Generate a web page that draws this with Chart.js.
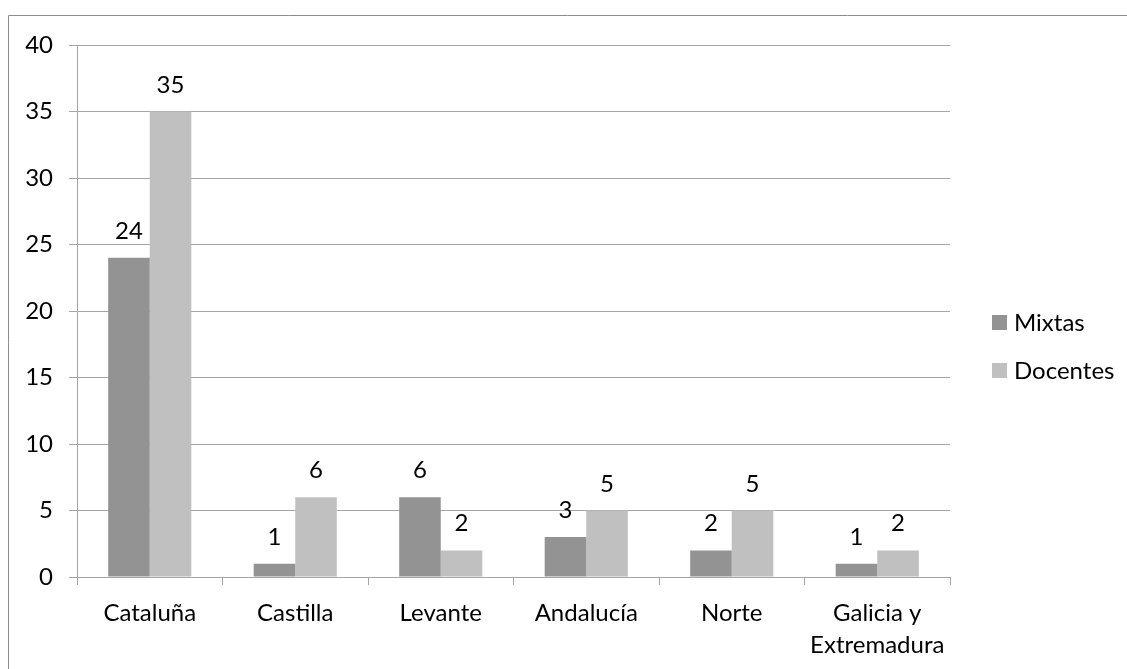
<!DOCTYPE html>
<html>
<head>
<meta charset="utf-8">
<script src="https://cdn.jsdelivr.net/npm/chart.js@4/dist/chart.umd.min.js"></script>
<style>
  html, body { margin: 0; padding: 0; background: #ffffff; }
  #wrap { position: relative; width: 1127px; height: 669px; }
</style>
</head>
<body>
<div id="wrap"><canvas id="chart" width="1127" height="669"></canvas></div>
<script>
// Regiones y número de escuelas por tipo
const regiones = ['Cataluña', 'Castilla', 'Levante', 'Andalucía', 'Norte', ['Galicia y', 'Extremadura']];
const mixtas = [24, 1, 6, 3, 2, 1];
const docentes = [35, 6, 2, 5, 5, 2];
const serieNombres = ['Mixtas', 'Docentes'];
const ejeY = { min: 0, max: 40, paso: 5 };

const FONT = 'Lato, "Open Sans", sans-serif';
const SIZE = 24;
const TEXT = '#000000';

// Marco exterior del gráfico (líneas superior e izquierda)
const marco = {
  id: 'marco',
  beforeDraw(chart) {
    const ctx = chart.ctx;
    ctx.save();
    ctx.strokeStyle = '#8c8c8c';
    ctx.lineWidth = 1;
    ctx.beginPath();
    ctx.moveTo(8.5, 669);
    ctx.lineTo(8.5, 15.5);
    ctx.lineTo(1127, 15.5);
    ctx.stroke();
    ctx.restore();
  }
};

// Valores encima de cada barra
const etiquetas = {
  id: 'etiquetas',
  afterDatasetsDraw(chart) {
    const ctx = chart.ctx;
    ctx.save();
    ctx.font = SIZE + 'px ' + FONT;
    ctx.fillStyle = TEXT;
    ctx.textAlign = 'center';
    ctx.textBaseline = 'alphabetic';
    chart.data.datasets.forEach((ds, i) => {
      const meta = chart.getDatasetMeta(i);
      meta.data.forEach((bar, j) => {
        ctx.fillText(String(ds.data[j]), bar.x, bar.y - 19);
      });
    });
    ctx.restore();
  }
};

// Leyenda a la derecha
const leyenda = {
  id: 'leyenda',
  afterDraw(chart) {
    const ctx = chart.ctx;
    ctx.save();
    ctx.font = SIZE + 'px ' + FONT;
    ctx.textBaseline = 'middle';
    ctx.textAlign = 'left';
    chart.data.datasets.forEach((ds, i) => {
      const cy = 322.5 + i * 48;
      ctx.fillStyle = ds.backgroundColor;
      ctx.fillRect(992, cy - 7.5, 15, 15);
      ctx.fillStyle = TEXT;
      ctx.fillText(ds.label, 1014, cy + 1);
    });
    ctx.restore();
  }
};

new Chart(document.getElementById('chart'), {
  type: 'bar',
  data: {
    labels: regiones,
    datasets: [
      { label: serieNombres[0], data: mixtas, backgroundColor: '#939393' },
      { label: serieNombres[1], data: docentes, backgroundColor: '#c0c0c0' }
    ]
  },
  options: {
    responsive: false,
    animation: false,
    devicePixelRatio: 1,
    layout: { padding: { top: 45, right: 177, bottom: 0, left: 0 } },
    datasets: { bar: { categoryPercentage: 2 / 3.5, barPercentage: 1.0 } },
    plugins: { legend: { display: false }, tooltip: { enabled: false } },
    scales: {
      x: {
        afterFit(scale) { scale.height = 92; },
        grid: { drawOnChartArea: false, drawTicks: true, tickLength: 8, color: '#a6a6a6', offset: true },
        border: { display: true, color: '#a6a6a6' },
        ticks: { color: TEXT, font: { family: FONT, size: SIZE, lineHeight: 1.33 }, padding: 12, maxRotation: 0, autoSkip: false }
      },
      y: {
        min: ejeY.min,
        max: ejeY.max,
        afterFit(scale) { scale.width = 77; },
        grid: { color: '#a6a6a6', tickLength: 8 },
        border: { display: true, color: '#a6a6a6' },
        ticks: { stepSize: ejeY.paso, color: TEXT, font: { family: FONT, size: SIZE }, padding: 16 }
      }
    }
  },
  plugins: [marco, etiquetas, leyenda]
});
</script>
</body>
</html>
